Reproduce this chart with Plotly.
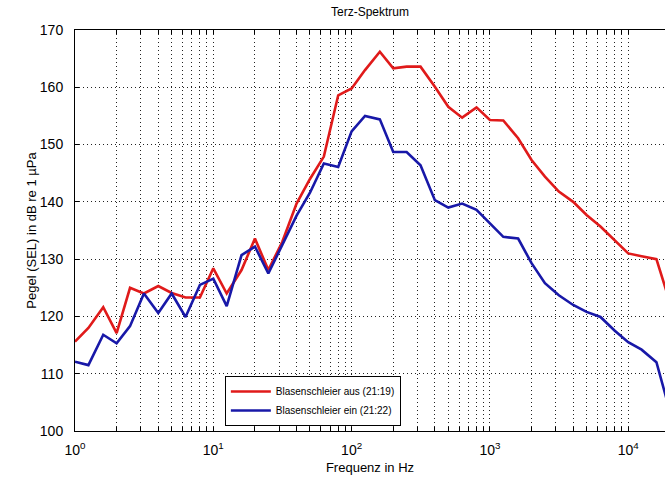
import plotly.graph_objects as go

# Third-octave band centre frequencies (Hz)
freq = [1, 1.25, 1.6, 2, 2.5, 3.15, 4, 5, 6.3, 8,
        10, 12.5, 16, 20, 25, 31.5, 40, 50, 63, 80,
        100, 125, 160, 200, 250, 315, 400, 500, 630, 800,
        1000, 1250, 1600, 2000, 2500, 3150, 4000, 5000, 6300, 8000,
        10000, 12500, 16000, 20000]

# Blasenschleier aus (21:19)
sel_aus = [115.6, 118.0, 121.6, 117.1, 125.0, 124.0, 125.3, 124.1, 123.3, 123.3,
           128.4, 124.0, 128.1, 133.6, 128.1, 133.0, 139.7, 144.0, 147.9, 158.6,
           159.8, 163.0, 166.2, 163.3, 163.6, 163.6, 160.1, 156.6, 154.7, 156.5,
           154.3, 154.2, 151.1, 147.3, 144.4, 141.8, 140.0, 137.7, 135.7, 133.3,
           131.0, 130.5, 130.0, 122.5]

# Blasenschleier ein (21:22)
sel_ein = [112.1, 111.5, 116.8, 115.3, 118.3, 124.0, 120.6, 124.0, 119.9, 125.5,
           126.6, 121.8, 130.7, 132.2, 127.5, 132.5, 137.6, 141.6, 146.7, 146.1,
           152.3, 155.0, 154.4, 148.7, 148.7, 146.4, 140.3, 139.0, 139.7, 138.6,
           136.2, 133.9, 133.6, 129.3, 125.8, 123.7, 122.0, 120.8, 119.9, 117.5,
           115.5, 114.2, 112.0, 103.5]

series_names = ["Blasenschleier aus (21:19)", "Blasenschleier ein (21:22)"]
series_colors = ["#e01a1a", "#1818a8"]

# axis ticks
x_tickvals = [m * 10 ** k for k in range(0, 5) for m in range(1, 10)]
x_ticktext = [("10<sup>%d</sup>" % k if m == 1 else "") for k in range(0, 5) for m in range(1, 10)]
y_tickvals = [100, 110, 120, 130, 140, 150, 160, 170]

font_family = "Liberation Sans, Arial, sans-serif"
grid_dash = "1px,3px"

fig = go.Figure()
for name, vals, col in zip(series_names, [sel_aus, sel_ein], series_colors):
    fig.add_trace(go.Scatter(x=freq, y=vals, mode="lines", name=name,
                             line=dict(color=col, width=2.6)))

fig.update_layout(
    width=665, height=483,
    margin=dict(l=75, r=0, t=30, b=52),
    paper_bgcolor="white", plot_bgcolor="white",
    font=dict(family=font_family, size=12, color="black"),
    title=dict(text="Terz-Spektrum", x=(75 + 665) / 2 / 665, xanchor="center",
               y=1 - 12 / 483, yanchor="middle", font=dict(size=12)),
    showlegend=True,
    legend=dict(x=0.254, y=0.137, xanchor="left", yanchor="top",
                bgcolor="white", bordercolor="black", borderwidth=1,
                font=dict(size=10), tracegroupgap=0, itemwidth=40),
)

fig.update_xaxes(type="log", range=[0, 4.266],
                 tickvals=x_tickvals, ticktext=x_ticktext,
                 ticks="inside", ticklen=4, tickcolor="black",
                 showline=True, linecolor="black", linewidth=1, mirror="ticks",
                 showgrid=True, gridcolor="#222222", griddash=grid_dash, gridwidth=1,
                 tickfont=dict(size=14), ticklabelstandoff=6,
                 title=dict(text="Frequenz in Hz", font=dict(size=13), standoff=6))

fig.update_yaxes(range=[100, 170], tickvals=y_tickvals,
                 ticks="inside", ticklen=4, tickcolor="black",
                 showline=True, linecolor="black", linewidth=1,
                 showgrid=True, gridcolor="#222222", griddash=grid_dash, gridwidth=1,
                 zeroline=False, tickfont=dict(size=14), ticklabelstandoff=8,
                 title=dict(text="Pegel (SEL) in dB re 1 µPa", font=dict(size=13), standoff=0))

fig.write_html("out.html")
